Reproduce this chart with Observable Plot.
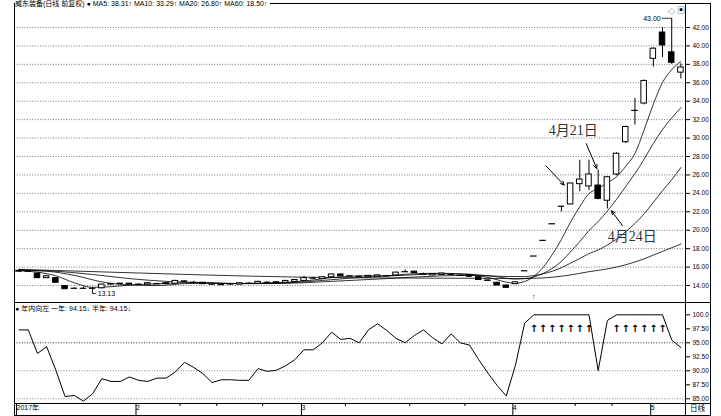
<!DOCTYPE html>
<html><head><meta charset="utf-8">
<script src="https://cdn.jsdelivr.net/npm/d3@7"></script>
<script src="https://cdn.jsdelivr.net/npm/@observablehq/plot@0.6"></script>
<style>
body{margin:0;background:#fff}
#wrap{position:relative;width:721px;height:416px;background:#fff;overflow:hidden;font-family:"Liberation Sans","Noto Sans CJK SC",sans-serif;color:#000}
.ab{position:absolute}
.ln{position:absolute;background:#000}
.lg{position:absolute;font-size:7px;line-height:8px;white-space:nowrap;background:#fff;padding-right:3px}
</style></head>
<body>
<div id="wrap">
  <div id="topc" class="ab" style="left:0;top:0"></div>
  <div id="botc" class="ab" style="left:0;top:302px"></div>
</div>
<script>
// ---------- data ----------
const openP  = [15.50,15.55,15.30,14.80,14.80,13.95,13.70,13.70,13.70,13.70,14.10,14.15,14.20,14.15,14.10,14.20,14.25,14.20,14.45,14.35,14.30,14.15,14.10,14.10,14.10,14.25,14.20,14.35,14.35,14.30,14.40,14.50,14.80,14.70,14.90,15.20,15.05,15.00,14.90,14.95,15.05,15.10,15.50,15.50,15.25,15.10,15.15,15.20,15.10,15.10,14.90,14.55,14.30,14.00,14.15,15.60,17.20,18.90,20.70,22.60,22.80,25.00,24.75,24.85,23.20,26.05,29.55,33.00,33.75,38.60,41.45,39.30,37.10];
const highP  = [15.70,15.60,15.35,15.10,14.85,14.00,13.75,13.85,13.80,14.15,14.20,14.25,14.25,14.20,14.30,14.25,14.30,14.55,14.50,14.45,14.35,14.20,14.15,14.20,14.30,14.30,14.45,14.40,14.40,14.55,14.65,15.00,14.90,14.95,15.25,15.25,15.10,15.05,15.10,15.15,15.10,15.45,15.70,15.55,15.35,15.30,15.35,15.30,15.15,15.15,14.95,14.60,14.35,14.05,14.40,15.60,17.20,18.90,20.70,22.60,25.10,27.60,27.60,26.55,25.80,28.40,31.30,34.30,36.30,39.80,42.00,43.00,38.06];
const lowP   = [15.45,15.50,14.75,14.75,14.25,13.55,13.65,13.60,13.13,13.65,14.05,14.10,14.05,14.10,14.05,14.15,14.10,14.15,14.35,14.30,14.10,14.10,14.05,14.05,14.05,14.20,14.15,14.30,14.20,14.25,14.35,14.45,14.70,14.65,14.85,14.95,15.00,14.95,14.85,14.90,15.00,15.05,15.45,15.30,15.15,15.05,15.10,15.10,15.05,14.90,14.55,14.45,13.95,13.70,14.10,15.60,17.20,18.90,20.70,22.00,22.75,24.20,24.30,23.30,22.30,25.90,29.40,31.40,33.60,37.70,38.75,38.00,36.43];
const closeP = [15.60,15.55,14.80,15.00,14.30,13.60,13.70,13.70,13.70,14.10,14.15,14.20,14.10,14.15,14.25,14.20,14.15,14.50,14.40,14.35,14.15,14.15,14.10,14.15,14.25,14.25,14.40,14.35,14.25,14.50,14.60,14.80,14.80,14.90,15.20,15.00,15.05,15.00,15.05,15.10,15.05,15.40,15.50,15.35,15.25,15.25,15.30,15.20,15.10,14.95,14.60,14.50,14.00,13.75,14.35,15.60,17.20,18.90,20.70,22.60,25.07,25.50,26.05,23.40,25.75,28.30,31.20,33.00,36.20,39.70,40.05,38.17,37.66];

// moving averages: [day index, value]
const ma5  = [[0,15.6],[2,15.45],[4,15.05],[6,14.3],[8,13.8],[10,13.87],[12,14.05],[15,14.18],[18,14.3],[20,14.3],[23,14.2],[26,14.23],[28,14.3],[30,14.4],[32,14.6],[34,14.86],[36,15.0],[38,15.06],[40,15.06],[42,15.22],[44,15.31],[46,15.33],[48,15.24],[50,15.07],[52,14.63],[53,14.36],[54,14.24],[55,14.44],[56,14.98],[57,15.96],[58,17.35],[59,19.0],[60,20.9],[61,22.55],[62,23.98],[63,24.52],[64,25.15],[65,25.8],[66,26.94],[67,28.33],[68,30.89],[69,33.68],[70,36.03],[71,37.42],[72,38.31]];
const ma10 = [[0,15.65],[3,15.55],[6,15.1],[9,14.4],[12,14.06],[15,14.0],[18,14.2],[21,14.25],[24,14.22],[27,14.25],[30,14.33],[33,14.55],[36,14.8],[39,14.98],[42,15.12],[45,15.25],[48,15.27],[50,15.15],[52,14.95],[53,14.79],[54,14.7],[55,14.74],[56,14.93],[57,15.3],[58,15.86],[59,16.62],[60,17.67],[61,18.77],[62,19.97],[63,20.94],[64,22.08],[65,23.35],[66,24.75],[67,26.16],[68,27.71],[69,29.42],[70,30.92],[71,32.18],[72,33.29]];
const ma20 = [[0,15.7],[4,15.55],[8,15.2],[12,14.75],[16,14.45],[19,14.33],[22,14.25],[25,14.2],[28,14.22],[31,14.3],[34,14.45],[37,14.6],[40,14.75],[43,14.92],[46,15.05],[49,15.1],[51,15.05],[53,14.98],[55,14.97],[56,15.08],[57,15.27],[58,15.55],[59,15.93],[60,16.43],[61,16.93],[62,17.46],[63,17.86],[64,18.39],[65,19.04],[66,19.84],[67,20.73],[68,21.78],[69,23.02],[70,24.29],[71,25.47],[72,26.8]];
const ma60 = [[0,15.75],[10,15.45],[20,15.15],[30,14.92],[40,14.82],[50,14.78],[54,14.75],[56,14.78],[58,14.9],[60,15.15],[62,15.5],[64,15.8],[66,16.25],[67,16.55],[68,16.9],[69,17.3],[70,17.7],[71,18.1],[72,18.5]];

// lower panel indicator (年内向左)
const indic = [97.3,97.3,93.1,94.3,90.1,85.4,85.6,84.6,85.9,88.6,88.1,88.1,88.9,88.3,88.1,88.7,88.7,89.8,91.5,90.6,89.5,87.9,88.4,88.4,88.3,88.3,90.4,89.9,90.1,90.9,92.0,93.75,93.75,95.0,96.9,95.6,95.8,95.0,97.3,98.4,97.2,95.8,95.0,96.3,97.3,95.9,94.8,96.6,95.0,94.6,92.0,89.6,87.4,85.5,91.0,98.5,100,100,100,100,100,100,100,90.05,99.0,100,100,100,100,100,100,95.5,94.15];
const signalDays = [56,57,58,59,60,61,62,65,66,67,68,69,70];

const priceTicks = [14,16,18,20,22,24,26,28,30,32,34,36,38,40,42];
const indTicks = [85,87.5,90,92.5,95,97.5,100];
const monthStart = [0,13,31,54,69];
const monthLabels = ["2017年","2","3","4","5"];
const weekStart = [18,22,27,36,43,49,61,65];

const notesText = [{i:60.3,v:30.8,t:"4月21日"},{i:66.7,v:19.3,t:"4月24日"}];
const notesArrow = [{x1:57.3,y1:27.0,x2:59.3,y2:24.9},{x1:61.7,y1:29.4,x2:62.85,y2:26.7},{x1:65.64,y1:20.5,x2:64.45,y2:22.1}];
const highMark = {i:71, v:43.00};
const lowMark = {i:8, v:13.13};

// ---------- build ----------
const candles = openP.map((o,i)=>({i,open:o,high:highP[i],low:lowP[i],close:closeP[i]}));
const bodies = candles.filter(d=>d.open!==d.close);
const flats = candles.filter(d=>d.open===d.close);
const hw = 0.3;
const toPts = a => a.map(([i,v])=>({i,v}));
const font = '"Liberation Sans","Noto Sans CJK SC",sans-serif';

const topPlot = Plot.plot({
  width:721, height:302, marginLeft:14, marginRight:36, marginTop:8, marginBottom:5,
  style:{background:"transparent", overflow:"visible", fontFamily:font},
  x:{domain:[-0.5,72.5], axis:null},
  y:{domain:[12.70,44.06], axis:null},
  marks:[
    Plot.gridY(priceTicks,{stroke:"#777",strokeOpacity:1,strokeDasharray:"1,1.6"}),
    Plot.axisY(priceTicks,{anchor:"right",tickSize:4,tickPadding:3,fontSize:6.5,tickFormat:d=>d.toFixed(2),label:null}),
    Plot.line(toPts(ma60),{x:"i",y:"v",stroke:"#000",strokeWidth:0.8,curve:"monotone-x"}),
    Plot.line(toPts(ma20),{x:"i",y:"v",stroke:"#000",strokeWidth:0.8,curve:"monotone-x"}),
    Plot.line(toPts(ma10),{x:"i",y:"v",stroke:"#000",strokeWidth:0.8,curve:"monotone-x"}),
    Plot.line(toPts(ma5),{x:"i",y:"v",stroke:"#000",strokeWidth:0.8,curve:"monotone-x"}),
    Plot.ruleX(candles,{x:"i",y1:"low",y2:"high",stroke:"#000",strokeWidth:1}),
    Plot.rect(bodies,{x1:d=>d.i-hw,x2:d=>d.i+hw,y1:"open",y2:"close",fill:d=>d.close>d.open?"#fff":"#000",stroke:"#000",strokeWidth:1}),
    Plot.ruleY(flats,{y:"close",x1:d=>d.i-hw-0.05,x2:d=>d.i+hw+0.05,stroke:"#000",strokeWidth:1.2}),
    Plot.arrow(notesArrow,{x1:"x1",y1:"y1",x2:"x2",y2:"y2",stroke:"#000",strokeWidth:1,headLength:6,headAngle:50}),
    Plot.text(notesText,{x:"i",y:"v",text:"t",fontSize:14,fontFamily:'"Liberation Serif","Noto Sans CJK SC",serif',fill:"#333"}),
    Plot.ruleY([highMark],{y:"v",x1:d=>d.i-1.05,x2:"i",stroke:"#000",strokeWidth:0.8}),
    Plot.text([highMark],{x:"i",y:"v",text:d=>d.v.toFixed(2),dx:-11,textAnchor:"end",fontSize:7}),
    Plot.ruleY([lowMark],{y:"v",x1:"i",x2:d=>d.i+0.45,stroke:"#000",strokeWidth:0.8}),
    Plot.text([lowMark],{x:"i",y:"v",text:d=>d.v.toFixed(2),dx:5,textAnchor:"start",fontSize:7}),
    Plot.text([56],{x:d=>d,frameAnchor:"bottom",text:()=>"↑",dy:1,fontSize:7,fontWeight:"bold"})
  ]
});
document.getElementById("topc").appendChild(topPlot);

const mLab = new Map(monthStart.map((s,k)=>[s-0.5,monthLabels[k]]));
const botPlot = Plot.plot({
  width:721, height:114, marginLeft:14, marginRight:36, marginTop:0, marginBottom:13,
  style:{background:"transparent", overflow:"visible", fontFamily:font},
  x:{domain:[-0.5,72.5], axis:null},
  y:{domain:[84.16,102.2], axis:null},
  marks:[
    Plot.gridY([95],{stroke:"#000",strokeOpacity:0.85,strokeDasharray:"1,1.6"}),
    Plot.gridY([90,85],{stroke:"#888",strokeOpacity:1,strokeDasharray:"1,1.6"}),
    Plot.axisY(indTicks,{anchor:"right",tickSize:4,tickPadding:3,fontSize:6.5,tickFormat:d=>d===100?"100.0":d.toFixed(2),label:null}),
    Plot.line(indic.map((v,i)=>({i,v})),{x:"i",y:"v",stroke:"#000",strokeWidth:1}),
    Plot.text(signalDays,{x:d=>d,y:()=>97.5,text:()=>"↑",fontSize:10,fontWeight:"bold",fontFamily:'"DejaVu Sans",sans-serif'}),
    Plot.axisX(monthStart.map(s=>s-0.5),{anchor:"bottom",tickSize:13,tickPadding:-11,textAnchor:"start",dx:2,fontSize:7,tickFormat:d=>mLab.get(d),label:null}),
    Plot.axisX(weekStart.map(s=>s-0.5),{anchor:"bottom",tickSize:3,tickFormat:()=>"",label:null})
  ]
});
document.getElementById("botc").appendChild(botPlot);

// ---------- frame chrome ----------
const wrap = document.getElementById("wrap");
function line(l,t,w,h){const d=document.createElement("div");d.className="ln";Object.assign(d.style,{left:l+"px",top:t+"px",width:w+"px",height:h+"px"});wrap.appendChild(d);}
line(14,3,697,1);     // top
line(14,3,1,413);     // left
line(685,3,1,413);    // price axis
line(710,3,1,413);    // right border
line(14,302,697,1);   // panel separator
line(14,403,697,1);   // date strip
line(14,415,697,1);   // bottom
function txt(l,t,s,fs,extra){const d=document.createElement("div");d.className="lg";d.style.left=l+"px";d.style.top=t+"px";if(fs)d.style.fontSize=fs+"px";d.textContent=s;if(extra)Object.assign(d.style,extra);wrap.appendChild(d);}
txt(15,0,"威东装备(日线 前复权) ● MA5: 38.31↑  MA10: 33.29↑  MA20: 26.80↑  MA60: 18.50↑");
txt(15,305,"● 年内向左  一年: 94.15↓  半年: 94.15↓");
txt(690,405,"日线",7.5,{background:"transparent"});
txt(668,8,"◇",7,{background:"transparent"});
txt(677,7,"▣",8,{background:"transparent"});
</script>
</body></html>
